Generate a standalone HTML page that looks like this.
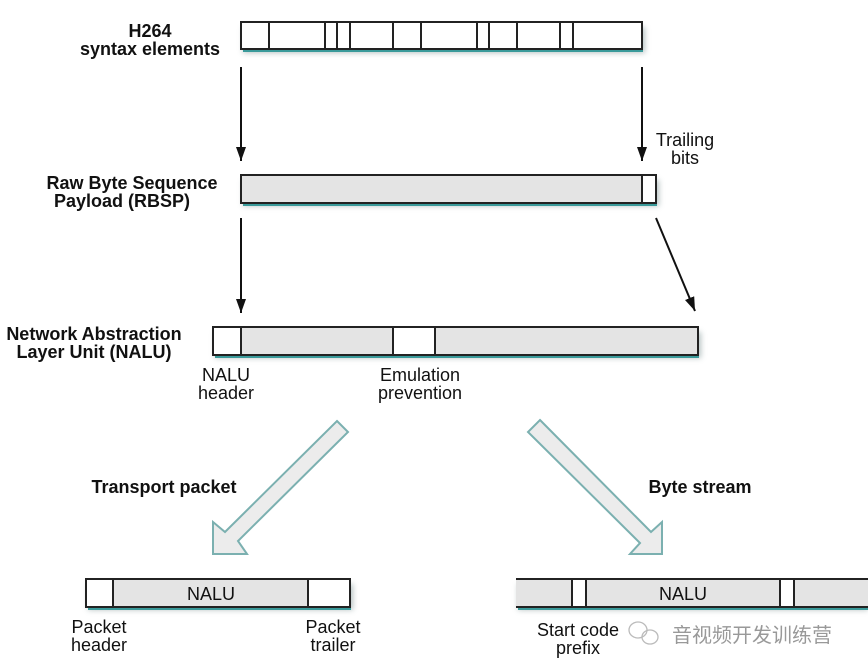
<!DOCTYPE html>
<html><head><meta charset="utf-8"><style>
html,body{margin:0;padding:0;background:#fff;}
svg{display:block;font-family:"Liberation Sans",Arial,sans-serif;}
.b{font-weight:bold;font-size:18px;fill:#111;}
.n{font-size:18px;fill:#111;}
</style></head><body>
<svg width="868" height="672" viewBox="0 0 868 672" xmlns="http://www.w3.org/2000/svg">
<defs>
<filter id="sh" x="-5%" y="-40%" width="110%" height="200%"><feGaussianBlur stdDeviation="3"/></filter>
<marker id="ah" markerWidth="14" markerHeight="10" refX="14" refY="5" orient="auto" markerUnits="userSpaceOnUse"><path d="M0,0 L14,5 L0,10 z" fill="#111"/></marker>
</defs>
<g fill="#9aa" opacity="0.7" filter="url(#sh)">
<rect x="243" y="27" width="402" height="26"/>
<rect x="243" y="180" width="416" height="26"/>
<rect x="215" y="332" width="486" height="26"/>
<rect x="88" y="584" width="265" height="26"/>
<rect x="518" y="584" width="350" height="26"/>
</g>
<g fill="#3a9a9a">
<rect x="243" y="49" width="400" height="3"/>
<rect x="243" y="203" width="414" height="3"/>
<rect x="215" y="355" width="484" height="3"/>
<rect x="88" y="607" width="263" height="3"/>
<rect x="518" y="607" width="350" height="3"/>
</g>
<rect x="241" y="22" width="401" height="27" fill="#fff" stroke="#222" stroke-width="2"/>
<g stroke="#222" stroke-width="2">
<line x1="269" y1="22" x2="269" y2="49"/><line x1="325" y1="22" x2="325" y2="49"/>
<line x1="337" y1="22" x2="337" y2="49"/><line x1="350" y1="22" x2="350" y2="49"/>
<line x1="393" y1="22" x2="393" y2="49"/><line x1="421" y1="22" x2="421" y2="49"/>
<line x1="477" y1="22" x2="477" y2="49"/><line x1="489" y1="22" x2="489" y2="49"/>
<line x1="517" y1="22" x2="517" y2="49"/><line x1="560" y1="22" x2="560" y2="49"/>
<line x1="573" y1="22" x2="573" y2="49"/>
</g>
<rect x="241" y="175" width="415" height="28" fill="#e4e4e4" stroke="#222" stroke-width="2"/>
<rect x="642" y="175" width="14" height="28" fill="#fff" stroke="#222" stroke-width="2"/>
<rect x="213" y="327" width="485" height="28" fill="#e4e4e4" stroke="#222" stroke-width="2"/>
<rect x="213" y="327" width="28" height="28" fill="#fff" stroke="#222" stroke-width="2"/>
<rect x="393" y="327" width="42" height="28" fill="#fff" stroke="#222" stroke-width="2"/>
<rect x="86" y="579" width="264" height="28" fill="#e4e4e4" stroke="#222" stroke-width="2"/>
<rect x="86" y="579" width="27" height="28" fill="#fff" stroke="#222" stroke-width="2"/>
<rect x="308" y="579" width="42" height="28" fill="#fff" stroke="#222" stroke-width="2"/>
<rect x="516" y="579" width="352" height="28" fill="#e4e4e4"/>
<rect x="572" y="579" width="14" height="28" fill="#fff" stroke="#222" stroke-width="2"/>
<rect x="780" y="579" width="14" height="28" fill="#fff" stroke="#222" stroke-width="2"/>
<line x1="516" y1="579" x2="868" y2="579" stroke="#222" stroke-width="2"/>
<line x1="516" y1="607" x2="868" y2="607" stroke="#222" stroke-width="2"/>
<g stroke="#111" stroke-width="2" marker-end="url(#ah)">
<line x1="241" y1="67" x2="241" y2="161"/>
<line x1="642" y1="67" x2="642" y2="161"/>
<line x1="241" y1="218" x2="241" y2="313"/>
<line x1="656" y1="218" x2="695" y2="311"/>
</g>
<polygon points="337,421 348,432 238,541 247,554 213,554 213,522 225,532" fill="#ececec" stroke="#7bb0b0" stroke-width="2"/>
<polygon points="540,420 651,532 662,522 662,554 630,554 640,543 528,432" fill="#ececec" stroke="#7bb0b0" stroke-width="2"/>
<text class="b" x="150" y="37" text-anchor="middle">H264</text>
<text class="b" x="150" y="55" text-anchor="middle">syntax elements</text>
<text class="n" x="685" y="146" text-anchor="middle">Trailing</text>
<text class="n" x="685" y="164" text-anchor="middle">bits</text>
<text class="b" x="132" y="189" text-anchor="middle">Raw Byte Sequence</text>
<text class="b" x="122" y="207" text-anchor="middle">Payload (RBSP)</text>
<text class="b" x="94" y="340" text-anchor="middle">Network Abstraction</text>
<text class="b" x="94" y="358" text-anchor="middle">Layer Unit (NALU)</text>
<text class="n" x="226" y="381" text-anchor="middle">NALU</text>
<text class="n" x="226" y="399" text-anchor="middle">header</text>
<text class="n" x="420" y="381" text-anchor="middle">Emulation</text>
<text class="n" x="420" y="399" text-anchor="middle">prevention</text>
<text class="b" x="164" y="493" text-anchor="middle">Transport packet</text>
<text class="b" x="700" y="493" text-anchor="middle">Byte stream</text>
<text class="n" x="211" y="600" text-anchor="middle">NALU</text>
<text class="n" x="683" y="600" text-anchor="middle">NALU</text>
<text class="n" x="99" y="633" text-anchor="middle">Packet</text>
<text class="n" x="99" y="651" text-anchor="middle">header</text>
<text class="n" x="333" y="633" text-anchor="middle">Packet</text>
<text class="n" x="333" y="651" text-anchor="middle">trailer</text>
<text class="n" x="578" y="636" text-anchor="middle">Start code</text>
<text class="n" x="578" y="654" text-anchor="middle">prefix</text>
<g fill="none" stroke="#bbb" stroke-width="1.3">
<ellipse cx="638" cy="630" rx="9" ry="8"/>
<ellipse cx="650" cy="637" rx="8" ry="7"/>
</g>
<text x="672" y="642" font-size="20" fill="#999" font-family="'Liberation Sans','Noto Sans CJK SC',sans-serif">音视频开发训练营</text>
</svg>
</body></html>
